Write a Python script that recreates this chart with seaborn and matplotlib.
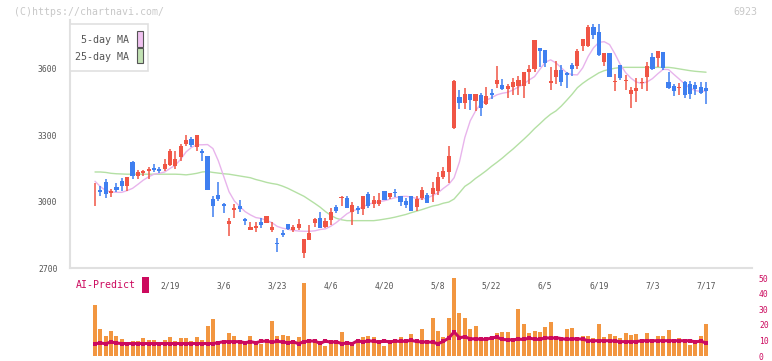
import numpy as np
import matplotlib
matplotlib.use("Agg")
import matplotlib.pyplot as plt
from matplotlib.patches import Rectangle
import seaborn as sns

# daily prices (open / high / low / close), one entry per trading day
opens = [3046, 3051, 3090, 3037, 3068, 3095, 3069, 3180, 3114, 3128,
         3137, 3153, 3146, 3146, 3165, 3159, 3203, 3262, 3284, 3245,
         3230, 3207, 3013, 3032, 2991, 2898, 2961, 2982, 2923, 2871,
         2880, 2910, 2905, 2871, 2811, 2860, 2901, 2874, 2883, 2767,
         2826, 2905, 2928, 2884, 2919, 2977, 3017, 3018, 2952, 2973,
         2965, 3035, 2991, 2991, 3050, 3020, 3041, 3027, 3005, 3027,
         2974, 3018, 3032, 3036, 3050, 3113, 3132, 3335, 3474, 3448,
         3487, 3453, 3483, 3442, 3492, 3532, 3528, 3510, 3519, 3523,
         3523, 3586, 3600, 3695, 3686, 3538, 3564, 3595, 3582, 3618,
         3613, 3705, 3705, 3791, 3767, 3633, 3672, 3541, 3618, 3544,
         3487, 3501, 3535, 3565, 3654, 3649, 3677, 3541, 3523, 3512,
         3541, 3532, 3528, 3519, 3514]
highs = [3084, 3072, 3104, 3059, 3083, 3105, 3113, 3185, 3144, 3144,
         3155, 3170, 3155, 3194, 3239, 3230, 3260, 3302, 3293, 3302,
         3239, 3207, 3027, 3090, 2995, 2928, 2991, 3009, 2928, 2907,
         2907, 2925, 2937, 2910, 2836, 2871, 2901, 2896, 2920, 2833,
         2896, 2925, 2955, 2925, 2973, 2983, 3024, 3027, 3000, 2982,
         3027, 3045, 3027, 3041, 3050, 3041, 3059, 3027, 3016, 3027,
         3027, 3068, 3041, 3090, 3135, 3158, 3253, 3548, 3505, 3514,
         3487, 3487, 3492, 3519, 3510, 3613, 3555, 3532, 3559, 3568,
         3586, 3618, 3731, 3695, 3686, 3609, 3636, 3618, 3586, 3627,
         3692, 3735, 3798, 3803, 3803, 3674, 3672, 3577, 3618, 3573,
         3519, 3559, 3559, 3631, 3672, 3681, 3677, 3586, 3532, 3537,
         3546, 3546, 3541, 3541, 3541]
lows = [2979, 3024, 3016, 3022, 3042, 3050, 3047, 3101, 3102, 3114,
        3102, 3134, 3128, 3137, 3161, 3146, 3185, 3251, 3248, 3227,
        3182, 3054, 2929, 3005, 2947, 2844, 2925, 2952, 2893, 2871,
        2862, 2883, 2905, 2862, 2771, 2838, 2871, 2862, 2874, 2744,
        2826, 2884, 2880, 2880, 2896, 2947, 2979, 2970, 2893, 2943,
        2938, 2970, 2970, 2979, 3009, 3014, 3023, 2979, 2970, 2956,
        2956, 3009, 2993, 2997, 3029, 3104, 3084, 3328, 3420, 3420,
        3415, 3411, 3385, 3438, 3465, 3514, 3505, 3469, 3483, 3483,
        3469, 3532, 3586, 3609, 3609, 3505, 3532, 3523, 3514, 3568,
        3600, 3681, 3701, 3735, 3659, 3615, 3565, 3501, 3550, 3505,
        3424, 3451, 3510, 3501, 3595, 3609, 3595, 3510, 3478, 3483,
        3469, 3465, 3483, 3487, 3442]
closes = [3048, 3042, 3033, 3049, 3051, 3069, 3113, 3114, 3135, 3138,
          3146, 3141, 3137, 3171, 3230, 3191, 3253, 3280, 3254, 3302,
          3222, 3054, 2979, 3013, 2979, 2914, 2973, 2965, 2911, 2887,
          2892, 2896, 2937, 2887, 2809, 2847, 2875, 2887, 2901, 2833,
          2860, 2920, 2880, 2914, 2955, 2956, 3019, 2970, 2986, 2961,
          3027, 2979, 3009, 3009, 3009, 3041, 3039, 2997, 2983, 2956,
          3014, 3054, 2993, 3063, 3113, 3140, 3207, 3546, 3444, 3487,
          3460, 3487, 3421, 3478, 3483, 3550, 3510, 3523, 3541, 3550,
          3586, 3600, 3731, 3681, 3626, 3546, 3595, 3541, 3573, 3600,
          3681, 3735, 3791, 3753, 3663, 3674, 3565, 3543, 3558, 3546,
          3505, 3514, 3537, 3613, 3600, 3681, 3606, 3514, 3501, 3514,
          3483, 3487, 3510, 3492, 3501]

# moving averages as drawn on the chart
ma5 = [3092, 3068, 3050, 3044, 3042, 3042, 3050, 3060, 3078, 3097,
       3112, 3124, 3128, 3134, 3150, 3165, 3192, 3225, 3245, 3257,
       3257, 3258, 3240, 3185, 3115, 3045, 3003, 2978, 2955, 2940,
       2928, 2924, 2915, 2905, 2888, 2880, 2875, 2870, 2867, 2866,
       2866, 2868, 2874, 2877, 2889, 2905, 2925, 2945, 2958, 2965,
       2977, 2988, 2995, 3000, 3004, 3011, 3018, 3023, 3024, 3021,
       3014, 3012, 3016, 3028, 3040, 3060, 3078, 3108, 3180, 3290,
       3365, 3410, 3443, 3458, 3470, 3483, 3490, 3494, 3505, 3518,
       3532, 3550, 3565, 3598, 3630, 3641, 3627, 3605, 3582, 3574,
       3573, 3605, 3656, 3695, 3720, 3723, 3710, 3668, 3620, 3583,
       3558, 3540, 3535, 3541, 3556, 3578, 3598, 3597, 3575, 3554,
       3532, 3513, 3502, 3498, 3500]
ma25 = [3134, 3134, 3132, 3128, 3126, 3125, 3124, 3124, 3124, 3124,
        3124, 3124, 3124, 3124, 3124, 3124, 3123, 3121, 3124, 3128,
        3134, 3136, 3132, 3129, 3126, 3124, 3120, 3116, 3112, 3108,
        3100, 3094, 3087, 3082, 3078, 3070, 3060, 3048, 3036, 3024,
        3008, 2992, 2975, 2955, 2938, 2925, 2918, 2914, 2914, 2914,
        2914, 2914, 2914, 2917, 2921, 2925, 2930, 2936, 2942, 2950,
        2957, 2964, 2972, 2980, 2985, 2993, 2998, 3012, 3040, 3069,
        3085, 3105, 3122, 3140, 3160, 3178, 3197, 3218, 3238, 3260,
        3282, 3305, 3330, 3352, 3375, 3395, 3410, 3432, 3458, 3485,
        3515, 3535, 3552, 3567, 3582, 3592, 3598, 3603, 3606, 3607,
        3607, 3607, 3607, 3607, 3607, 3607, 3607, 3607, 3604, 3600,
        3596, 3592, 3589, 3587, 3585]

volume = [33.0, 17.3, 12.9, 16.0, 12.9, 11.0, 9.2, 9.8, 9.8, 11.7,
          10.4, 10.4, 9.2, 10.4, 12.3, 9.8, 11.7, 11.7, 9.8, 12.3,
          10.4, 19.2, 23.5, 7.9, 8.5, 14.8, 12.9, 7.9, 7.9, 12.9,
          8.5, 7.9, 9.8, 22.3, 12.9, 13.5, 12.9, 9.8, 12.3, 46.7,
          11.0, 11.0, 8.5, 6.7, 7.9, 7.9, 15.4, 7.3, 8.5, 8.5,
          12.3, 12.9, 12.3, 10.4, 6.7, 7.9, 10.4, 12.3, 10.4, 14.2,
          10.4, 17.3, 8.5, 24.2, 16.0, 12.3, 24.2, 49.8, 27.3, 24.2,
          17.3, 19.2, 12.3, 10.4, 11.7, 14.8, 15.4, 15.4, 11.7, 30.4,
          20.4, 14.8, 16.0, 15.4, 18.5, 21.7, 12.3, 10.4, 17.3, 17.9,
          11.0, 12.9, 12.9, 11.7, 20.4, 12.3, 14.2, 12.9, 11.7, 14.8,
          13.5, 14.2, 11.0, 14.8, 10.4, 12.9, 12.9, 16.7, 10.4, 11.7,
          10.4, 7.3, 7.9, 12.9, 20.4]
ai_predict = [7.9, 8.3, 7.9, 9.0, 8.3, 8.0, 8.0, 8.0, 8.0, 8.0,
              8.0, 8.0, 8.0, 8.0, 8.0, 8.0, 8.0, 8.0, 8.0, 8.0,
              8.0, 8.0, 8.0, 8.5, 9.2, 9.2, 9.2, 9.2, 8.5, 9.2,
              8.5, 9.4, 9.6, 8.8, 9.4, 9.0, 8.5, 9.0, 7.9, 9.2,
              9.6, 9.6, 8.1, 9.6, 8.8, 9.2, 7.9, 8.3, 7.9, 9.8,
              9.0, 9.8, 9.4, 9.0, 9.6, 9.0, 9.6, 9.3, 9.6, 10.0,
              9.3, 9.0, 9.0, 8.8, 7.9, 9.4, 11.5, 15.4, 11.7, 12.3,
              11.0, 11.0, 10.8, 10.6, 11.7, 12.0, 10.6, 10.4, 10.4, 10.8,
              10.6, 11.5, 10.8, 10.6, 11.7, 11.4, 11.7, 11.2, 10.6, 11.0,
              11.0, 10.8, 9.8, 9.8, 9.8, 9.8, 9.8, 9.6, 9.2, 9.2,
              9.2, 9.2, 9.8, 9.8, 9.8, 9.8, 9.8, 9.8, 9.8, 9.8,
              9.8, 9.8, 9.0, 9.6, 8.3]

tick_labels = ["2/19", "3/6", "3/23", "4/6", "4/20", "5/8",
               "5/22", "6/5", "6/19", "7/3", "7/17"]
tick_days = [14, 24, 34, 44, 54, 64, 74, 84, 94, 104, 114]

RED = "#f05545"
BLUE = "#3f7ff0"
PINK = "#e8b4ec"
GREEN = "#b4e0a4"
ORANGE = "#f29640"
CRIMSON = "#cc0a5e"
AXIS = "#e0e0e0"
TXT = "#555555"

sns.set_style("white")
plt.rcParams["font.family"] = ["DejaVu Sans Mono"]

W, H = 772, 361
fig = plt.figure(figsize=(W / 100, H / 100), dpi=100)
ax = fig.add_axes([70 / W, 1 - 268 / H, 682 / W, 248 / H])
axv = fig.add_axes([70 / W, 1 - 356 / H, 682 / W, 78 / H])

idx = np.arange(len(closes))
o, h, l, c = map(np.array, (opens, highs, lows, closes))
up = c >= o
colors = np.where(up, RED, BLUE)
step = 5.36  # px per trading day, first day at x=95
xlim = ((70 - 95) / step, (752 - 95) / step)

# moving averages
sns.lineplot(x=idx, y=ma25, ax=ax, color=GREEN, linewidth=1.0, zorder=1)
sns.lineplot(x=idx, y=ma5, ax=ax, color=PINK, linewidth=1.0, zorder=1)

# candles
ax.vlines(idx, l, h, colors=colors, linewidth=1.1, zorder=2)
body_lo = np.minimum(o, c)
body_h = np.maximum(np.abs(c - o), 4)
ax.bar(idx, body_h, bottom=body_lo, width=0.78, color=colors, linewidth=0, zorder=3)

ax.set_xlim(*xlim)
ax.set_ylim(2700, 3821)
ax.set_yticks([2700, 3000, 3300, 3600])
ax.set_yticklabels(["2700", "3000", "3300", "3600"])
ax.set_xticks(tick_days)
ax.set_xticklabels(tick_labels)
ax.set_xticks(np.linspace(xlim[0], xlim[1], 12), minor=True)
ax.tick_params(axis="x", which="major", length=0, pad=10, labelsize=5.8, labelcolor=TXT)
ax.tick_params(axis="x", which="minor", length=8, width=1.5, color=AXIS, direction="inout")
ax.tick_params(axis="y", length=4, width=1.5, color=AXIS, pad=5, labelsize=5.8, labelcolor=TXT)
for side in ["top", "right"]:
    ax.spines[side].set_visible(False)
for side in ["left", "bottom"]:
    ax.spines[side].set_color(AXIS)
    ax.spines[side].set_linewidth(1.5)
ax.set_xlabel("")
ax.set_ylabel("")

# volume + AI-Predict
sns.barplot(x=idx, y=volume, ax=axv, native_scale=True, color=ORANGE,
            saturation=1, errorbar=None, width=0.75, linewidth=0)
sns.lineplot(x=idx, y=ai_predict, ax=axv, color=CRIMSON, linewidth=2.2,
             marker="s", markersize=2.4, markeredgewidth=0)
axv.set_xlim(*xlim)
axv.set_ylim(0, 50)
axv.set_xticks([])
axv.yaxis.tick_right()
axv.set_yticks([0, 10, 20, 30, 40, 50])
axv.tick_params(axis="y", length=0, pad=5, labelsize=5.8, labelcolor=CRIMSON)
for s in axv.spines.values():
    s.set_visible(False)
axv.patch.set_alpha(0)
axv.set_xlabel("")
axv.set_ylabel("")

fig.text(76 / W, 1 - 285 / H, "AI-Predict", color=CRIMSON, fontsize=7.1,
         ha="left", va="center")
fig.add_artist(Rectangle((142 / W, 1 - 293 / H), 6.5 / W, 16 / H,
                         transform=fig.transFigure, facecolor=CRIMSON,
                         edgecolor="none"))

# legend box
fig.add_artist(Rectangle((70 / W, 1 - 71 / H), 78 / W, 47 / H,
                         transform=fig.transFigure, facecolor="white",
                         edgecolor=AXIS, linewidth=1.2, zorder=5))
fig.text(129 / W, 1 - 40 / H, "5-day MA", color=TXT, fontsize=7.2,
         ha="right", va="center", zorder=6)
fig.text(129 / W, 1 - 57 / H, "25-day MA", color=TXT, fontsize=7.2,
         ha="right", va="center", zorder=6)
fig.add_artist(Rectangle((136.5 / W, 1 - 46.5 / H), 6 / W, 15 / H,
                         transform=fig.transFigure, facecolor="#f0c2f0",
                         edgecolor="#555555", linewidth=0.8, zorder=6))
fig.add_artist(Rectangle((136.5 / W, 1 - 63.3 / H), 6 / W, 15 / H,
                         transform=fig.transFigure, facecolor="#c2e2b4",
                         edgecolor="#555555", linewidth=0.8, zorder=6))

# watermarks
fig.text(14 / W, 1 - 12 / H, "(C)https://chartnavi.com/", color="#c8c8c8",
         fontsize=7.1, ha="left", va="center")
fig.text(757 / W, 1 - 12 / H, "6923", color="#c8c8c8", fontsize=7.2,
         ha="right", va="center")

fig.savefig("out.png", dpi=100)
